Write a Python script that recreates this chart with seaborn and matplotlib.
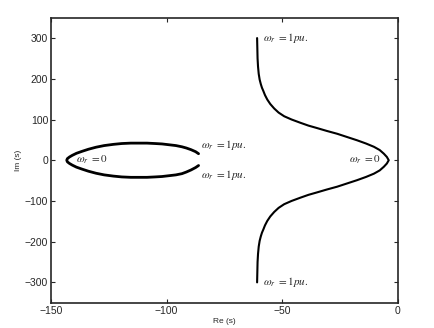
import numpy as np
import pandas as pd
import matplotlib
matplotlib.use("Agg")
import matplotlib.pyplot as plt
import seaborn as sns

# Right branch (Re, Im)
right_re = [-60.9, -60.8, -60.7, -60.5, -60.2, -59.8, -59.3, -58.8, -58.2, -57.5, -56.5, -55.2,
            -53.5, -51.6, -49.2, -46.0, -42.2, -38.7, -35.0, -30.8, -26.3, -22.0, -17.7, -13.8,
            -10.4, -7.9, -6.1, -4.8, -4.0,
            -4.8, -6.1, -7.9, -10.4, -13.8, -17.7, -22.0, -26.3, -30.8, -35.0, -38.7, -42.2,
            -46.0, -49.2, -51.6, -53.5, -55.2, -56.5, -57.5, -58.2, -58.8, -59.3, -59.8, -60.2,
            -60.5, -60.7, -60.8, -60.9]
right_im = [300, 275, 250, 230, 212, 198, 187, 178, 170, 160, 149, 138,
            127, 117, 108, 100, 92, 85, 79, 72, 65, 57, 49, 41,
            33, 25, 16, 8, 0,
            -8, -16, -25, -33, -41, -49, -57, -65, -72, -79, -85, -92,
            -100, -108, -117, -127, -138, -149, -160, -170, -178, -187, -198, -212,
            -230, -250, -275, -300]

# Left loop (Re, Im)
loop_re = [-86.2, -87.5, -89.5, -91.5, -93.4, -96.0, -99.0, -102.0, -105.0, -108.5, -112.0, -115.5,
           -119.4, -123.0, -127.0, -130.5, -133.8, -136.5, -139.0, -140.8, -142.0, -142.9, -143.2,
           -142.9, -142.0, -140.8, -139.0, -136.5, -133.8, -130.5, -127.0, -123.0, -119.4, -115.5,
           -112.0, -108.5, -105.0, -102.0, -99.0, -96.0, -93.4, -91.5, -89.5, -87.5, -86.2]
loop_im = [16, 21, 26, 30, 33, 36, 38, 40, 41, 42, 42, 42,
           41, 39, 36, 32, 27, 22, 17, 12, 8, 4, 0,
           -4, -8, -12, -17, -22, -27, -32, -36, -39, -41, -42,
           -42, -42, -41, -40, -38, -36, -33, -29, -24, -18, -13]

label_text = [r"$\omega_{r}$ $=$1$pu.$", r"$\omega_{r}$ $=$1$pu.$", r"$\omega_{r}$ $=$1$pu.$",
              r"$\omega_{r}$ $=$1$pu.$", r"$\omega_{r}$ $=$0", r"$\omega_{r}$ $=$0"]
label_re = [-58.5, -58.5, -85.0, -85.0, -139.0, -21.0]
label_im = [300, -300, 37, -37, 0, 0]

sns.set_style("ticks")
plt.rcParams["font.family"] = ["Liberation Sans", "DejaVu Sans"]
plt.rcParams["mathtext.fontset"] = "stix"

fig = plt.figure(figsize=(4.34, 3.28), dpi=100)
ax = fig.add_axes([0.1175, 0.077, 0.7995, 0.869])

df_r = pd.DataFrame({"re": right_re, "im": right_im})
df_l = pd.DataFrame({"re": loop_re, "im": loop_im})
sns.lineplot(data=df_r, x="re", y="im", sort=False, estimator=None, color="black", lw=1.5, ax=ax)
sns.lineplot(data=df_l, x="re", y="im", sort=False, estimator=None, color="black", lw=2.0, ax=ax)

for t, xx, yy in zip(label_text, label_re, label_im):
    ax.text(xx, yy, t, fontsize=8, va="center", ha="left", family="STIXGeneral")

ax.set_xlim(-150, 0)
ax.set_ylim(-350, 350)
ax.set_xticks([-150, -100, -50, 0])
ax.set_yticks([-300, -200, -100, 0, 100, 200, 300])
ax.tick_params(direction="in", length=3, width=0.8, labelsize=7.5, top=True, right=True, pad=2)
for s in ax.spines.values():
    s.set_linewidth(1.2)
    s.set_visible(True)
ax.set_xlabel("Re (s)", fontsize=6, labelpad=2)
ax.set_ylabel("Im (s)", fontsize=6, labelpad=2)

fig.savefig("out.png", dpi=100)
